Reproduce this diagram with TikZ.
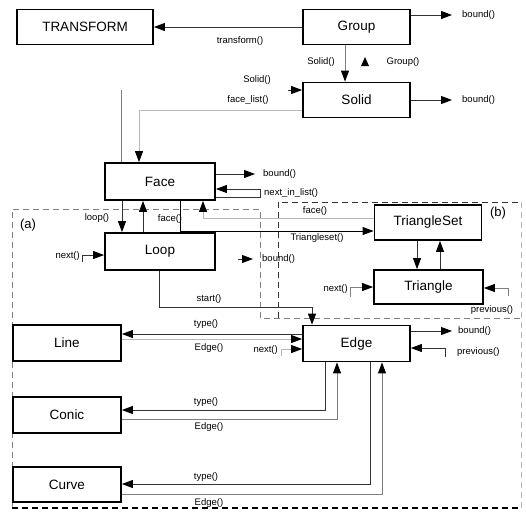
\documentclass[tikz,border=0pt]{standalone}
\usepackage{fontspec}
\setmainfont{Liberation Sans}
\usetikzlibrary{arrows.meta}
\definecolor{dk}{gray}{0.2}
\definecolor{md}{gray}{0.5}
\definecolor{lt}{gray}{0.72}
\tikzset{
  box/.style={draw=black,line width=1.8pt,minimum width=107pt,minimum height=35pt,inner sep=0pt,font=\fontsize{13.5}{15}\selectfont},
  lbl/.style={font=\fontsize{9.5}{10}\selectfont,inner sep=0pt},
  tip/.style={-{Triangle[length=11pt,width=8pt,black]}},
  conn/.style={line width=0.9pt,draw=dk},
  gconn/.style={line width=0.9pt,draw=lt},
  mconn/.style={line width=0.9pt,draw=md},
  dsh/.style={dash pattern=on 6pt off 4pt,line width=1pt}
}
\begin{document}
\begin{tikzpicture}[x=1pt,y=-1pt]
\useasboundingbox (0,0) rectangle (526,512);
% dashed regions
\draw[dsh,draw=md] (12,508) -- (12,209) -- (260,209) -- (260,318) -- (521,318);
\draw[dsh,draw=lt] (521,202) -- (521,508);
\draw[dsh,draw=dk] (278,318) -- (278,202) -- (521,202);
\draw[dsh,draw=black,line width=1.4pt] (12,508) -- (521,508);
\node[font=\fontsize{13}{15}\selectfont,inner sep=0pt] (la) at (28,225) {(a)};
\node[font=\fontsize{13}{15}\selectfont,inner sep=0pt] (lb) at (498,213) {(b)};
% boxes
\node[box,minimum width=136pt] (transform) at (85,27) {TRANSFORM};
\node[box] (group) at (356.5,27) {Group};
\node[box] (solid) at (356.5,100) {Solid};
\node[box,minimum width=110pt,minimum height=37pt] (face) at (160,181.5) {Face};
\node[box,minimum width=110pt,minimum height=37pt] (loop) at (160,251.5) {Loop};
\node[box] (tset) at (428,222.5) {TriangleSet};
\node[box,minimum width=109pt,minimum height=34pt] (tri) at (428.5,287) {Triangle};
\node[box,minimum height=36pt] (edge) at (356.5,343.5) {Edge};
\node[box,minimum width=108pt,minimum height=36pt] (line) at (67,343) {Line};
\node[box,minimum width=108pt,minimum height=36pt] (conic) at (67,415) {Conic};
\node[box,minimum width=108pt,minimum height=35pt] (curve) at (67,484.5) {Curve};
% free ends
\coordinate (gb) at (452,15);
\coordinate (sb) at (452,100);
\coordinate (fb) at (255,174);
\coordinate (ss) at (288,90);
\coordinate (fup) at (121,90);
\coordinate (lbs) at (238,259);
\coordinate (lbe) at (253,259);
\coordinate (eb) at (452,331);
% Group
\draw[conn,tip] (group.west) -- (transform.east);
\node[lbl] (t1) at (240,41) {transform()};
\draw[conn,tip] (group.east |- 0,15) -- (gb);
\node[lbl,anchor=west] (t2) at (462,15) {bound()};
\draw[mconn,tip] (group.south -| 345,0) -- (solid.north -| 345,0);
\node[lbl] (t3) at (321,62) {Solid()};
\fill (361,66) -- (369,66) -- (365,57) -- cycle;
\node[lbl] (t4) at (403,62) {Group()};
% Solid
\draw[conn,tip] (solid.east) -- (sb);
\node[lbl,anchor=west] (t5) at (462,100) {bound()};
\draw[conn,tip] (ss) -- (solid.west |- ss);
\node[lbl] (t6) at (257,80) {Solid()};
\draw[line width=1pt,draw=md] (face.north -| fup) -- (fup);
\draw[gconn,tip] (solid.west |- 0,110) -- (139,110) -- (face.north -| 139,0);
\node[lbl] (t7) at (248,100) {face\_list()};
% Face
\draw[conn,tip] (face.east |- fb) -- (fb);
\node[lbl,anchor=west] (t8) at (263,174) {bound()};
\draw[conn,tip] (face.east |- 0,197) -- (260,197) -- (260,189) -- (face.east |- 0,189);
\node[lbl,anchor=west] (t9) at (264,193) {next\_in\_list()};
\draw[conn,tip] (face.south -| 122,0) -- (loop.north -| 122,0);
\node[lbl] (t10) at (97,218) {loop()};
\draw[conn,tip] (loop.north -| 143,0) -- (face.south -| 143,0);
\node[lbl] (t11) at (170,219) {face()};
\draw[line width=0.9pt,draw=black,tip] (face.south -| 180,0) -- (180,231) -- (tset.west |- 0,231);
\node[lbl] (t12) at (317,238) {Triangleset()};
\draw[gconn,tip] (tset.west |- 0,218) -- (203,218) -- (face.south -| 203,0);
\node[lbl] (t13) at (315,211) {face()};
% Loop
\draw[conn,tip] (82,262) -- (82,255) -- (loop.west |- 0,255);
\node[lbl,anchor=east] (t14) at (80,256) {next()};
\draw[conn,tip] (lbs) -- (lbe);
\node[lbl,anchor=west] (t15) at (262,259) {bound()};
\draw[conn,tip] (loop.south -| 159,0) -- (159,307) -- (312,307) -- (edge.north -| 312,0);
\node[lbl] (t16) at (209,299) {start()};
% TriangleSet / Triangle
\draw[conn,tip] (tset.south -| 417,0) -- (tri.north -| 417,0);
\draw[conn,tip] (tri.north -| 440,0) -- (tset.south -| 440,0);
\draw[mconn,tip] (350,297) -- (350,287) -- (tri.west |- 0,287);
\node[lbl,anchor=east] (t17) at (348,289) {next()};
\draw[mconn,tip] (508,296) -- (508,288) -- (tri.east |- 0,288);
\node[lbl] (t18) at (492,310) {previous()};
% Edge
\draw[conn,tip] (edge.east |- eb) -- (eb);
\node[lbl,anchor=west] (t19) at (458,331) {bound()};
\draw[conn,tip] (445,357) -- (445,348) -- (edge.east |- 0,348);
\node[lbl,anchor=west] (t20) at (457,352) {previous()};
\draw[conn,tip] (edge.west |- 0,334) -- (line.east |- 0,334);
\node[lbl] (t21) at (206,324) {type()};
\draw[gconn,tip] (line.east |- 0,339) -- (edge.west |- 0,339);
\node[lbl] (t22) at (209,348) {Edge()};
\draw[gconn,tip] (281,356) -- (281,349) -- (edge.west |- 0,349);
\node[lbl,anchor=east] (t23) at (278,350) {next()};
\draw[conn,tip] (edge.south -| 325,0) -- (325,410) -- (conic.east |- 0,410);
\node[lbl] (t24) at (206,402) {type()};
\draw[mconn,tip] (conic.east |- 0,419) -- (337,419) -- (edge.south -| 337,0);
\node[lbl] (t25) at (209,427) {Edge()};
\draw[conn,tip] (edge.south -| 370,0) -- (370,484) -- (curve.east |- 0,484);
\node[lbl] (t26) at (206,477) {type()};
\draw[mconn,tip] (curve.east |- 0,494) -- (382,494) -- (edge.south -| 382,0);
\node[lbl] (t27) at (209,503) {Edge()};
\end{tikzpicture}
\end{document}
